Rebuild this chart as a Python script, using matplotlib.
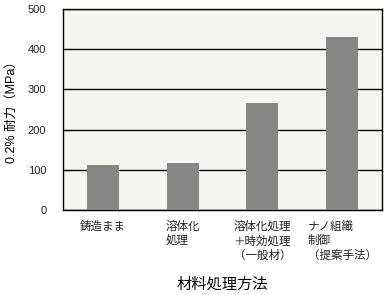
import matplotlib
matplotlib.use('Agg')
import matplotlib.pyplot as plt

plt.rcParams['font.family'] = ['Liberation Sans', 'Noto Sans CJK JP']

# 材料処理方法と0.2%耐力
methods = ['鋳造まま', '溶体化\n処理', '溶体化処理\n＋時効処理\n（一般材）', 'ナノ組織\n制御\n（提案手法）']
strength = [111, 116, 265, 430]
yticks = [0, 100, 200, 300, 400, 500]

fig = plt.figure(figsize=(3.84, 2.95), dpi=100)
ax = fig.add_axes([63/384, 1-210/295, 319/384, 201/295])
ax.set_facecolor('#f3f7f0')

x = range(len(methods))
ax.bar(x, strength, width=0.4, color='#878787', zorder=3)
ax.set_xlim(-0.5, len(methods)-0.5)
ax.set_ylim(0, 500)
ax.set_yticks(yticks)
ax.yaxis.grid(True, color='black', linewidth=1.0, zorder=1)
ax.set_axisbelow(True)
ax.tick_params(length=0, labelsize=8, colors='#222222', pad=12)
ax.tick_params(axis='x', pad=8)
ax.set_xticks(list(x))
ax.set_xticklabels(methods, multialignment='left', fontsize=8.3, linespacing=1.25, va='top')
for s in ax.spines.values():
    s.set_color('black')
    s.set_linewidth(1.0)

ax.set_ylabel('0.2% 耐力（MPa）', fontsize=9)
ax.yaxis.set_label_coords(-0.142, 0.5)
ax.set_xlabel('材料処理方法', fontsize=11, labelpad=11)

fig.savefig('out.png', dpi=100, facecolor='white')
